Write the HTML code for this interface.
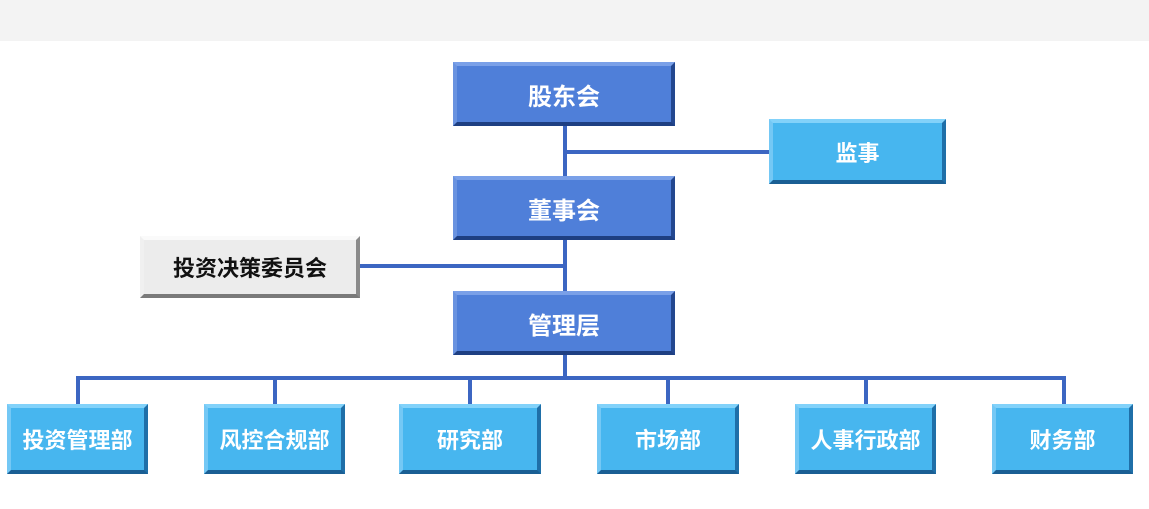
<!DOCTYPE html>
<html><head><meta charset="utf-8"><style>
body{margin:0;width:1149px;height:509px;background:#fff;position:relative;overflow:hidden;font-family:"Liberation Sans","Noto Sans CJK SC",sans-serif}
.top{position:absolute;left:0;top:0;width:1149px;height:41px;background:#f3f3f3}
.b{position:absolute;box-sizing:border-box;display:flex;align-items:center;justify-content:center;font-size:24px;font-weight:bold;color:#fff;
border-style:solid;border-width:4px}
.d{background:#4f7fd9;border-color:#7aa0e8 #23478f #1e3f82 #6a93e0}
.l{background:#47b6ef;border-color:#82d2fa #1f6fa8 #1a5f94 #74c8f5;font-size:22px}
.g{background:#ececec;border-color:#fafafa #8a8a8a #7a7a7a #f0f0f0;color:#111;font-size:22px}
.ln{position:absolute;background:#3c66c2}
</style></head><body>
<div class="top"></div>
<div class="ln" style="left:563px;top:120px;width:4px;height:180px"></div>
<div class="ln" style="left:563px;top:150px;width:210px;height:4px"></div>
<div class="ln" style="left:355px;top:264px;width:210px;height:4px"></div>
<div class="ln" style="left:563px;top:350px;width:4px;height:30px"></div>
<div class="ln" style="left:76px;top:376px;width:990px;height:4px"></div>
<div class="ln" style="left:76px;top:376px;width:4px;height:32px"></div>
<div class="ln" style="left:273px;top:376px;width:4px;height:32px"></div>
<div class="ln" style="left:468px;top:376px;width:4px;height:32px"></div>
<div class="ln" style="left:666px;top:376px;width:4px;height:32px"></div>
<div class="ln" style="left:864px;top:376px;width:4px;height:32px"></div>
<div class="ln" style="left:1062px;top:376px;width:4px;height:32px"></div>
<div class="b d" style="left:453px;top:62px;width:222px;height:64px">股东会</div>
<div class="b l" style="left:769px;top:119px;width:177px;height:65px">监事</div>
<div class="b d" style="left:453px;top:176px;width:222px;height:64px">董事会</div>
<div class="b g" style="left:140px;top:236px;width:220px;height:62px">投资决策委员会</div>
<div class="b d" style="left:453px;top:291px;width:222px;height:64px">管理层</div>
<div class="b l" style="left:7px;top:404px;width:141px;height:70px">投资管理部</div>
<div class="b l" style="left:204px;top:404px;width:141px;height:70px">风控合规部</div>
<div class="b l" style="left:399px;top:404px;width:142px;height:70px">研究部</div>
<div class="b l" style="left:597px;top:404px;width:142px;height:70px">市场部</div>
<div class="b l" style="left:795px;top:404px;width:141px;height:70px">人事行政部</div>
<div class="b l" style="left:992px;top:404px;width:141px;height:70px">财务部</div>
</body></html>
